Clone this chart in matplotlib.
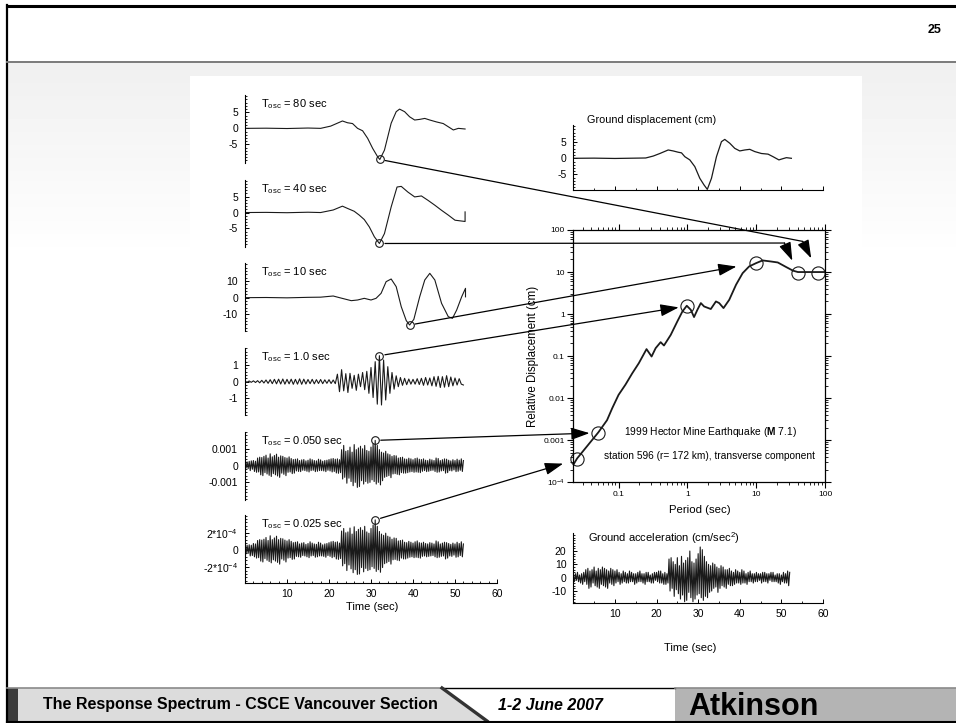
import numpy as np
import matplotlib
matplotlib.use("Agg")
import matplotlib.pyplot as plt
from matplotlib.patches import ConnectionPatch, Rectangle, Polygon
from matplotlib.ticker import MultipleLocator, LogLocator, NullFormatter

plt.rcParams['font.family'] = ['Liberation Sans', 'DejaVu Sans']
plt.rcParams['mathtext.fontset'] = 'custom'
plt.rcParams['mathtext.rm'] = 'Liberation Sans'
plt.rcParams['mathtext.bf'] = 'Liberation Sans:bold'
plt.rcParams['mathtext.it'] = 'Liberation Sans:italic'
plt.rcParams['mathtext.default'] = 'regular'

W, H = 956, 723
INK = '#1a1a1a'

# ---- oscillator responses (cm) ----
# long period oscillators, smooth traces: time (s) / displacement (cm)
t80 = [0, 5, 10, 15, 18, 20.4, 23.2, 24.4, 25.6, 26.8, 28, 29.2, 30.4, 31.6, 32.1, 33.2,
       34.8, 36, 36.8, 38, 39.2, 40.4, 41.6, 42.8, 44, 45.6, 47.2, 48.4, 49.6, 50.8, 52.4]
d80 = [0, 0.05, -0.05, 0.1, 0, 0.7, 2.3, 1.75, 1.5, 0, -0.75, -3.1, -6.25, -8.9, -9.7, -6.8,
       1.6, 5.2, 6.0, 5.2, 3.6, 2.6, 2.8, 3.1, 2.6, 2.0, 1.5, 0.5, -0.5, 0, -0.2]

t40 = [0, 5, 10, 15, 18, 21, 23.2, 24.4, 26, 27.2, 28.4, 29.6, 30.8, 32, 33.2, 34.8, 36.2,
       37.2, 38.8, 40.4, 42, 43.6, 45.2, 46.8, 48.4, 50, 51.2, 52.4, 52.4]
d40 = [0, 0.05, -0.05, 0.1, 0, 0.8, 2.0, 1.3, 0.4, -0.8, -2.2, -4.5, -7.6, -9.7, -6.6, 1.75, 8.0,
       8.2, 6.4, 4.9, 5.2, 3.8, 2.3, 0.7, -0.8, -2.4, -2.6, -2.8, 0.2]

t10 = [0, 5, 10, 15, 18, 21, 22.5, 25.3, 26.8, 28.4, 30, 31.2, 32.4, 33.6, 34.8, 36, 37.2,
       38.4, 39.2, 40.2, 41.6, 42.8, 44, 45.2, 46.8, 48.4, 49.4, 50.4, 51.6, 52.5, 52.5]
d10 = [0, 0.1, -0.1, 0.2, 0.3, 1.0, 0, -1.8, -1.4, -0.4, -1.4, -0.4, 2.6, 9.6, 11.2, 6.6, -5.4,
       -13.8, -16.4, -13.0, 0.6, 10.6, 14.6, 10.6, -3.4, -11.4, -12.4, -7.4, 0.6, 5.6, 0.5]

# 1.0 s oscillator, one value every 0.5 s
resp_1s = [
    0.02, -0.03, 0.04, -0.04, 0.05, -0.05, 0.06, -0.07, 0.08, -0.08, 0.10,
    -0.10, 0.12, -0.12, 0.14, -0.13, 0.15, -0.14, 0.16, -0.15, 0.14,
    -0.13, 0.15, -0.16, 0.14, -0.15, 0.17, -0.16, 0.15, -0.14, 0.13,
    -0.12, 0.14, -0.13, 0.12, -0.11, 0.13, -0.12, 0.11, -0.10, 0.12,
    -0.11, 0.10, -0.12, 0.45, -0.60, 0.72, -0.55, 0.48, -0.65, 0.50,
    -0.40, 0.38, -0.52, 0.45, -0.30, 0.55, -0.48, 0.62, -0.70, 0.85,
    -0.95, 1.20, -1.35, 1.56, -1.40, 1.30, -1.10, 0.90, -0.70, 0.55,
    -0.45, 0.35, -0.30, 0.25, -0.22, 0.20, -0.18, 0.16, -0.15, 0.14,
    -0.15, 0.18, -0.17, 0.20, -0.22, 0.25, -0.20, 0.22, -0.25, 0.30,
    -0.28, 0.32, -0.35, 0.30, -0.33, 0.36, -0.30, 0.28, -0.25, 0.22,
    -0.20, 0.18, -0.15, -0.20]

# 0.050 s oscillator, every 0.25 s, in 1e-5 cm
resp_005 = [
    10, -15, 22, -18, 25, -30, 28, -22, 30, -35, 26, -40, 45, -38, 50, -55,
    48, -60, 55, -42, 62, -50, 45, -58, 70, -65, 52, -48, 60, -55, 68, -62,
    50, -70, 58, -45, 55, -52, 48, -60, 45, -40, 52, -38, 42, -48, 36, -45,
    38, -32, 40, -35, 30, -36, 34, -28, 36, -30, 28, -34, 32, -38, 40, -30,
    35, -28, 30, -36, 28, -34, 38, -30, 34, -30, 26, -32, 30, -36, 32, -28,
    36, -32, 40, -38, 42, -35, 38, -44, 40, -46, 35, -42, 95, -80, 120, -70,
    85, -105, 90, -75, 110, -95, 80, -120, 125, -100, 95, -130, 105, -125, 115, -90,
    100, -110, 120, -95, 90, -105, 85, -100, 110, -85, 130, -95, 150, -110, 120, -100,
    95, -115, 80, -90, 75, -70, 85, -65, 70, -60, 65, -72, 55, -50, 60, -48,
    58, -52, 45, -55, 48, -42, 50, -45, 40, -45, 38, -42, 44, -38, 40, -36,
    35, -40, 42, -38, 45, -40, 38, -42, 36, -34, 40, -30, 32, -36, 30, -34,
    38, -30, 34, -28, 30, -35, 45, -40, 42, -38, 30, -32, 35, -30, 40, -45,
    38, -42, 32, -30, 28, -32, 35, -26, 30, -36, 38, -34, 32, -28, 40, -35,
    30]

# 0.025 s oscillator, every 0.25 s, in 1e-6 cm
resp_0025 = [
    30, -45, 55, -40, 60, -70, 55, -65, 75, -80, 70, -95, 110, -90, 120, -130,
    115, -140, 125, -100, 145, -120, 110, -135, 165, -150, 120, -115, 140, -130, 160, -145,
    120, -165, 135, -105, 130, -120, 115, -140, 105, -95, 120, -90, 100, -110, 85, -105,
    90, -75, 95, -80, 70, -85, 80, -65, 85, -70, 65, -80, 75, -90, 95, -70,
    80, -65, 70, -85, 65, -80, 90, -70, 80, -70, 60, -75, 70, -85, 75, -65,
    85, -75, 95, -90, 100, -80, 90, -105, 95, -110, 80, -100, 220, -185, 250, -160,
    200, -240, 210, -175, 255, -220, 185, -265, 270, -230, 215, -285, 240, -280, 260, -205,
    230, -255, 275, -215, 210, -240, 195, -230, 250, -195, 290, -215, 350, -250, 275, -230,
    215, -260, 185, -205, 170, -160, 195, -150, 160, -135, 150, -165, 125, -115, 140, -110,
    135, -120, 105, -125, 110, -95, 115, -105, 90, -105, 85, -95, 100, -85, 90, -80,
    80, -90, 95, -85, 105, -90, 85, -95, 80, -75, 90, -70, 75, -80, 70, -75,
    85, -70, 80, -65, 70, -80, 105, -90, 95, -85, 70, -75, 80, -70, 90, -105,
    85, -95, 75, -70, 65, -75, 80, -60, 70, -85, 90, -80, 75, -65, 95, -80,
    70]

# ground motion
t_gd = [0, 5, 10, 15, 17.4, 19.2, 20.8, 22.8, 24, 25.2, 26, 26.8, 28, 29.2, 30.4, 31.4, 32.2,
        33.2, 34.4, 35.6, 36.4, 37.6, 38.8, 40, 41.2, 42.4, 43.6, 45.2, 46.8, 48, 49.4, 50.4,
        51.2, 52.4]
ground_disp = [0, 0.05, -0.05, 0.05, 0.1, 0.7, 1.5, 2.6, 2.3, 1.9, 1.7, 0.5, -0.5, -2.6, -6.25,
               -8.3, -9.7, -6.25, 0.5, 5.2, 5.9, 4.7, 3.1, 2.3, 2.6, 2.8, 2.1, 1.5, 1.3, 0.5,
               -0.5, -0.1, 0.2, 0]

# ground acceleration (cm/s2), every 0.25 s
ground_acc = [
    2, -3, 3, -2, 4, -3, 2, -4, 3, -5, 4, -3, 6, -5, 7, -8,
    5, -7, 6, -4, 8, -6, 5, -7, 7, -8, 6, -5, 8, -6, 7, -7,
    6, -8, 5, -4, 7, -5, 6, -6, 5, -4, 6, -3, 4, -5, 3, -4,
    5, -3, 4, -4, 3, -4, 5, -3, 4, -3, 3, -5, 3, -4, 4, -3,
    5, -3, 3, -4, 3, -5, 4, -3, 4, -3, 2, -4, 3, -4, 4, -2,
    4, -3, 5, -4, 5, -4, 3, -5, 4, -5, 3, -4, 14, -10, 15, -8,
    12, -14, 10, -9, 15, -12, 9, -16, 16, -13, 11, -18, 13, -17, 15, -11,
    20, -15, 12, -18, 11, -16, 14, -13, 18, -12, 23, -15, 21, -17, 16, -14,
    12, -15, 10, -11, 9, -10, 11, -8, 10, -7, 8, -11, 7, -8, 9, -6,
    8, -7, 6, -8, 6, -5, 7, -6, 5, -6, 4, -5, 6, -4, 5, -4,
    4, -5, 6, -4, 5, -4, 3, -5, 4, -3, 5, -3, 3, -4, 3, -3,
    4, -3, 3, -2, 3, -4, 4, -3, 4, -3, 3, -4, 3, -2, 4, -3,
    4, -3, 2, -3, 3, -4, 3, -5, 2, -3, 4, -4, 3, -4, 5, -6,
    4]

# response spectrum (period s / relative displacement cm)
period = [0.021, 0.025, 0.051, 0.068, 0.081, 0.1, 0.126, 0.158, 0.197, 0.255, 0.302, 0.346,
          0.409, 0.457, 0.573, 0.715, 0.846, 0.98, 1.12, 1.25, 1.4, 1.57, 1.75, 2.19, 2.6,
          2.9, 3.35, 4.06, 5.1, 6.35, 7.9, 9.97, 12.4, 16.5, 20.6, 27.4, 34.2, 40.4, 47.9, 99]
rel_disp = [2.3e-4, 3.7e-4, 1.55e-3, 3.0e-3, 5.8e-3, 0.012, 0.021, 0.039, 0.068, 0.147, 0.098,
            0.155, 0.215, 0.179, 0.32, 0.67, 1.15, 1.58, 1.27, 0.85, 1.27, 1.83, 1.52, 1.32,
            2.0, 1.83, 1.39, 2.19, 5.0, 9.4, 13.6, 16.3, 18.9, 17.8, 16.9, 13.1, 10.8, 10.0,
            10.0, 10.0]

osc_periods = [80, 40, 10, 1.0, 0.05, 0.025]
osc_labels = ['80 sec', '40 sec', '10 sec', '1.0 sec', '0.050 sec', '0.025 sec']


fig = plt.figure(figsize=(W / 100, H / 100), dpi=100)


def px_axes(x0, y0, x1, y1, **kw):
    # axes from a pixel box on the slide (left, top, right, bottom)
    ax = fig.add_axes([x0 / W, 1 - y1 / H, (x1 - x0) / W, (y1 - y0) / H], **kw)
    ax.patch.set_visible(False)
    return ax


# ---- slide background ----
bg = fig.add_axes([0, 0, 1, 1], zorder=-5)
shade = np.linspace(0.94, 1.0, 60)[:, None]
bg.imshow(shade, extent=(7, W, 260, 63), cmap='gray', vmin=0, vmax=1, aspect='auto', origin='upper')
bg.set_xlim(0, W)
bg.set_ylim(H, 0)
bg.axis('off')
bg.add_patch(Rectangle((190, 76), 672, 612, fc='white', ec='none'))
bg.plot([7, W], [6, 6], color='black', lw=2.2)
bg.plot([7, 7], [5, H], color='black', lw=1.6)
bg.plot([7, W], [62, 62], color='#7a7a7a', lw=1.4)
bg.text(942, 30, '25', fontsize=9, fontweight='bold', ha='right', va='center')

# footer
bg.add_patch(Rectangle((7, 688), W - 7, 33, fc='#dcdcdc', ec='none'))
bg.add_patch(Rectangle((7, 688), 11, 33, fc='#3c3c3c', ec='none'))
bg.add_patch(Polygon([(442, 688), (675, 688), (675, 721), (487, 721)], closed=True, fc='white', ec='none'))
bg.add_patch(Rectangle((675, 688), W - 675, 33, fc='#b4b4b4', ec='none'))
bg.plot([7, 442], [688, 688], color='#8a8a8a', lw=1.2)
bg.plot([442, 675], [688, 688], color='black', lw=1.0)
bg.plot([675, W], [688, 688], color='#8a8a8a', lw=1.2)
bg.plot([442, 487], [688, 721], color='#333333', lw=2.4)
bg.text(43, 705, 'The Response Spectrum - CSCE Vancouver Section', fontsize=11.5, fontweight='bold', va='center')
bg.text(498, 705, '1-2 June 2007', fontsize=11.5, fontweight='bold', style='italic', va='center')
bg.text(688, 715, 'Atkinson', fontsize=22, fontweight='bold', va='baseline')
bg.plot([7, W], [721.5, 721.5], color='black', lw=1.5)


def style_trace_axes(ax, show_x):
    ax.set_xlim(0, 60)
    for side in ['top', 'right']:
        ax.spines[side].set_visible(False)
    ax.spines['bottom'].set_visible(show_x)
    for s in ax.spines.values():
        s.set_linewidth(0.8)
    ax.tick_params(axis='y', which='major', direction='in', length=3, width=0.7, labelsize=7.5, pad=5)
    ax.tick_params(axis='y', which='minor', direction='in', length=1.5, width=0.6)
    if show_x:
        ax.tick_params(axis='x', which='major', direction='in', length=3, width=0.7, labelsize=7.5, pad=4)
        ax.tick_params(axis='x', which='minor', direction='in', length=1.5, width=0.6)
    else:
        ax.tick_params(axis='x', which='both', bottom=False, labelbottom=False)


# ---- left column: oscillator responses ----
traces = [
    (t80, d80, 1.0),
    (t40, d40, 1.0),
    (t10, d10, 1.0),
    (np.arange(len(resp_1s)) * 0.5, resp_1s, 1.0),
    (np.arange(len(resp_005)) * 0.25, resp_005, 1e-5),
    (np.arange(len(resp_0025)) * 0.25, resp_0025, 1e-6),
]
boxes = [(95, 163), (180, 247), (263, 331), (348, 415), (432, 500), (515, 583)]
limits = [(-10.8, 10.4), (-10.8, 10.2), (-20, 20.8), (-2, 2.02), (-0.00205, 0.002), (-3.85e-4, 4.07e-4)]
yticks = [[5, 0, -5], [5, 0, -5], [10, 0, -10], [1, 0, -1], [0.001, 0, -0.001], [2e-4, 0, -2e-4]]
ylabels = [['5', '0', '-5'], ['5', '0', '-5'], ['10', '0', '-10'], ['1', '0', '-1'],
           ['0.001', '0', '-0.001'], [r'2*10$^{-4}$', '0', r'-2*10$^{-4}$']]
minor_steps = [1, 1, 2, 0.2, 0.0002, 4e-5]

peaks = []
for i, (tt, vals, unit) in enumerate(traces):
    top, bottom = boxes[i]
    ax = px_axes(245, top, 497, bottom)
    v = np.asarray(vals, dtype=float) * unit
    ax.plot(tt, v, color=INK, lw=0.8)
    k = np.argmax(np.abs(v))
    ax.plot(tt[k], v[k], 'o', mfc='none', mec=INK, ms=5.5, mew=0.8, clip_on=False)
    peaks.append((ax, tt[k], v[k]))
    ax.set_ylim(*limits[i])
    ax.set_yticks(yticks[i], ylabels[i])
    ax.yaxis.set_minor_locator(MultipleLocator(minor_steps[i]))
    last = i == len(traces) - 1
    style_trace_axes(ax, last)
    if last:
        ax.set_xticks([10, 20, 30, 40, 50, 60])
        ax.xaxis.set_minor_locator(MultipleLocator(2))
    ax.text(0.063, 0.87, r'T$_{osc}$ = ' + osc_labels[i], transform=ax.transAxes, fontsize=8, va='center')

fig.text(371.7 / W, 1 - 607 / H, 'Time (sec)', ha='center', va='center', fontsize=8)

# ---- ground displacement ----
ax_gd = px_axes(573.3, 125, 823, 190)
ax_gd.plot(t_gd, ground_disp, color=INK, lw=0.9)
ax_gd.set_ylim(-9.9, 10.4)
ax_gd.set_yticks([5, 0, -5], ['5', '0', '-5'])
ax_gd.yaxis.set_minor_locator(MultipleLocator(1))
style_trace_axes(ax_gd, True)
ax_gd.set_xticks([10, 20, 30, 40, 50, 60], [])
ax_gd.xaxis.set_minor_locator(MultipleLocator(5))
ax_gd.text(0.055, 1.08, 'Ground displacement (cm)', transform=ax_gd.transAxes, fontsize=7.8, va='center')

# ---- ground acceleration ----
ax_ga = px_axes(573.3, 533, 823, 603.3)
ax_ga.plot(np.arange(len(ground_acc)) * 0.25, ground_acc, color=INK, lw=0.8)
ax_ga.set_ylim(-19.2, 33.5)
ax_ga.set_yticks([20, 10, 0, -10], ['20', '10', '0', '-10'])
ax_ga.yaxis.set_minor_locator(MultipleLocator(2))
style_trace_axes(ax_ga, True)
ax_ga.set_xticks([10, 20, 30, 40, 50, 60])
ax_ga.xaxis.set_minor_locator(MultipleLocator(5))
ax_ga.text(0.06, 0.93, r'Ground acceleration (cm/sec$^{2}$)', transform=ax_ga.transAxes, fontsize=8, va='center')
fig.text(690 / W, 1 - 648 / H, 'Time (sec)', ha='center', va='center', fontsize=8)

# ---- response spectrum ----
sp = px_axes(573.3, 230, 825, 482.3)
sp.loglog(period, rel_disp, color=INK, lw=1.3)
sp.set_xlim(0.022, 100)
sp.set_ylim(1e-4, 100)
sp.set_xticks([0.1, 1, 10, 100], ['0.1', '1', '10', '100'])
sp.set_yticks([1e-4, 1e-3, 1e-2, 0.1, 1, 10, 100],
              [r'10$^{-4}$', '0.001', '0.01', '0.1', '1', '10', '100'])
for axis in (sp.xaxis, sp.yaxis):
    axis.set_minor_locator(LogLocator(base=10, subs=np.arange(2, 10), numticks=20))
    axis.set_minor_formatter(NullFormatter())
for s in sp.spines.values():
    s.set_linewidth(0.9)
sp.tick_params(which='major', direction='out', length=4.5, width=0.8, labelsize=6, pad=1.5,
               top=True, right=True)
sp.tick_params(which='minor', direction='out', length=2.5, width=0.6, top=True, right=True)
sp.yaxis.set_label_coords(-0.135, 0.5)
sp.set_ylabel('Relative Displacement (cm)', fontsize=8.3)
fig.text(700 / W, 1 - 510 / H, 'Period (sec)', ha='center', va='center', fontsize=8.2)
sp.text(0.543, 0.2, r'1999 Hector Mine Earthquake ($\mathbf{M}$ 7.1)', transform=sp.transAxes,
        ha='center', va='center', fontsize=7.4)
sp.text(0.543, 0.105, 'station 596 (r= 172 km), transverse component', transform=sp.transAxes,
        ha='center', va='center', fontsize=7.3)

# circles on the spectrum at each oscillator's peak response
peak_vals = [abs(p[2]) for p in peaks]
sp.plot(osc_periods, peak_vals, 'o', mfc='none', mec=INK, ms=9.5, mew=0.8, clip_on=False)

# ---- arrows from each trace peak to the spectrum ----
bends = {80: (47.6, 53.5), 40: (25.8, 49.0)}
tip_gap = {80: 11.5, 40: 9.4, 10: 14.4, 1.0: 6.3, 0.05: 6.0, 0.025: 10.5}
head = '-|>,head_length=0.75,head_width=0.25'

for (ax, tp, vp), T, amp in zip(peaks, osc_periods, peak_vals):
    start = dict(xyA=(tp, vp), coordsA='data', axesA=ax)
    if T in bends:
        fig.add_artist(ConnectionPatch(xyB=bends[T], coordsB='data', axesB=sp, arrowstyle='-',
                                       shrinkA=4, shrinkB=0, lw=0.9, color='black', **start))
        fig.add_artist(ConnectionPatch(xyA=bends[T], coordsA='data', axesA=sp, xyB=(T, amp),
                                       coordsB='data', axesB=sp, arrowstyle=head, mutation_scale=15,
                                       shrinkA=0, shrinkB=tip_gap[T], lw=0.9, color='black', fc='black'))
    else:
        fig.add_artist(ConnectionPatch(xyB=(T, amp), coordsB='data', axesB=sp, arrowstyle=head,
                                       mutation_scale=15, shrinkA=4, shrinkB=tip_gap[T], lw=0.9,
                                       color='black', fc='black', **start))

fig.savefig('out.png', dpi=100)
